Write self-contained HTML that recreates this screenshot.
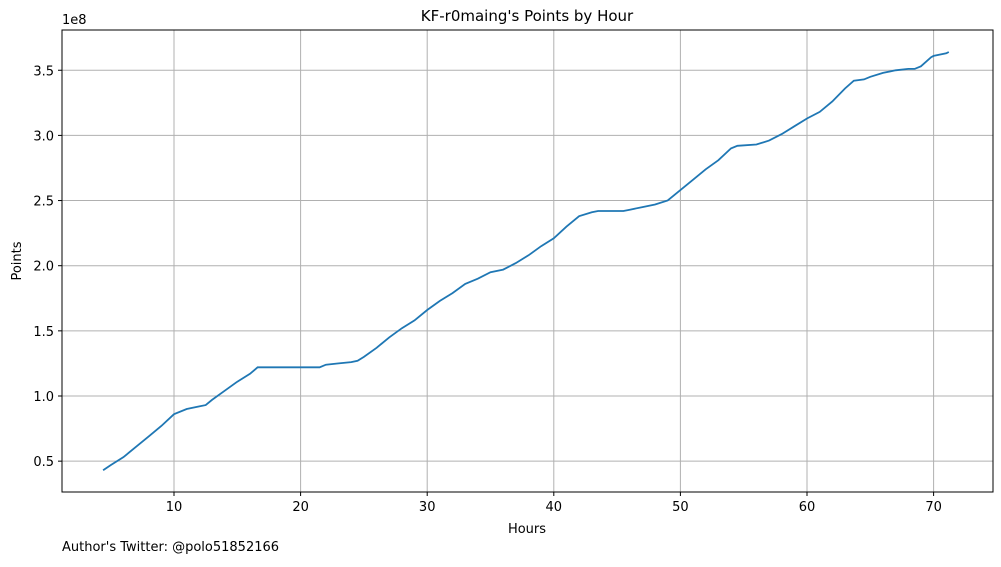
<!DOCTYPE html>
<html><head><meta charset="utf-8"><style>
body{margin:0;background:#fff;font-family:"Liberation Sans","DejaVu Sans",sans-serif}
svg text{font-family:"DejaVu Sans","Liberation Sans",sans-serif;fill:#000}
</style></head><body>
<svg id="chart" width="1001" height="562" xmlns="http://www.w3.org/2000/svg">
<g id="grid"></g>
<rect x="62" y="30" width="931" height="462" fill="none" stroke="#000" stroke-width="1"/>
<g id="ticks"></g>
<path id="line" fill="none" stroke="#1f77b4" stroke-width="1.8"/>
<text x="527" y="21" font-size="15" text-anchor="middle">KF-r0maing's Points by Hour</text>
<text x="527" y="533" font-size="13" text-anchor="middle">Hours</text>
<text x="21" y="261" font-size="13" text-anchor="middle" transform="rotate(-90 21 261)">Points</text>
<text x="62" y="24" font-size="13">1e8</text>
<text x="62" y="551" font-size="13">Author's Twitter: @polo51852166</text>
</svg>
<script>
const hours=[4.4,5,6,7,8,9,10,11,12,12.5,13,14,15,16,16.6,17,21.5,22,23,24,24.5,25,26,27,28,29,30,31,32,33,34,35,36,37,38,39,40,41,42,43,43.5,45.5,46,47,48,49,50,51,52,53,54,54.5,56,57,58,59,60,61,62,63,63.7,64.5,65,66,67,68,68.5,69,69.8,70,71,71.2];
const points=[0.43,0.47,0.53,0.61,0.69,0.77,0.86,0.90,0.92,0.93,0.97,1.04,1.11,1.17,1.22,1.22,1.22,1.24,1.25,1.26,1.27,1.30,1.37,1.45,1.52,1.58,1.66,1.73,1.79,1.86,1.90,1.95,1.97,2.02,2.08,2.15,2.21,2.30,2.38,2.41,2.42,2.42,2.43,2.45,2.47,2.50,2.58,2.66,2.74,2.81,2.90,2.92,2.93,2.96,3.01,3.07,3.13,3.18,3.26,3.36,3.42,3.43,3.45,3.48,3.50,3.51,3.51,3.53,3.60,3.61,3.63,3.64];
const xTicks=[10,20,30,40,50,60,70];
const yTicks=[0.5,1.0,1.5,2.0,2.5,3.0,3.5];
const X=h=>174+(h-10)*12.66;
const Y=v=>396-(v-1.0)*130.3;
const ns="http://www.w3.org/2000/svg";
const grid=document.getElementById('grid'),ticks=document.getElementById('ticks');
function mk(p,t,a){const e=document.createElementNS(ns,t);for(const k in a)e.setAttribute(k,a[k]);p.appendChild(e);return e;}
xTicks.forEach(t=>{const x=X(t);
const g=mk(grid,'line',{x1:x,x2:x,y1:30,y2:492,stroke:'#b0b0b0','stroke-width':1});


mk(ticks,'line',{x1:x,x2:x,y1:492,y2:496,stroke:'#000'});
const l=mk(ticks,'text',{x:x,y:511,'font-size':13,'text-anchor':'middle'});l.textContent=t;

});
yTicks.forEach(t=>{const y=Y(t);
const g=mk(grid,'line',{x1:62,x2:993,y1:y,y2:y,stroke:'#b0b0b0','stroke-width':1});


mk(ticks,'line',{x1:58,x2:62,y1:y,y2:y,stroke:'#000'});
const l=mk(ticks,'text',{x:54,y:y+5,'font-size':13,'text-anchor':'end'});l.textContent=t.toFixed(1);

});
document.getElementById('line').setAttribute('d',hours.map((h,i)=>(i?'L':'M')+X(h).toFixed(1)+' '+Y(points[i]).toFixed(1)).join(' '));
</script>
</body></html>
